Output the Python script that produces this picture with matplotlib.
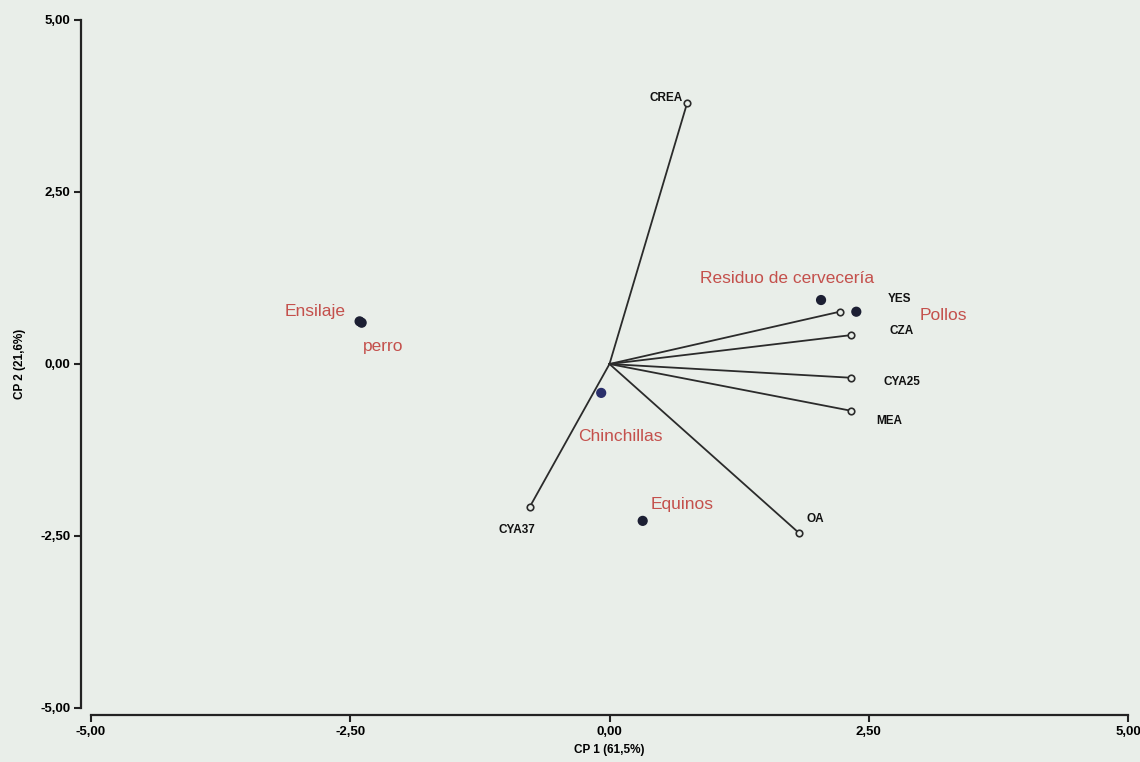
import numpy as np
import matplotlib
matplotlib.use("Agg")
import matplotlib.pyplot as plt

plt.rcParams['font.family'] = ['Liberation Sans', 'DejaVu Sans']
plt.rcParams['font.weight'] = 'bold'
plt.rcParams['xtick.labelsize'] = 9.5
plt.rcParams['ytick.labelsize'] = 9.5

# ---- variables (vectores) ----
var_names = ["CREA", "YES", "CZA", "CYA25", "MEA", "OA", "CYA37"]
var_x = [0.75, 2.22, 2.33, 2.33, 2.33, 1.83, -0.77]
var_y = [3.80, 0.76, 0.42, -0.20, -0.68, -2.46, -2.08]
# desplazamiento de etiquetas (pixeles)
var_off = [(-5, 5), (60, 13), (51, 4), (51, -4), (38, -10), (16, 14), (-13, -23)]

# ---- observaciones ----
obs_names = ["Ensilaje", "perro", "Residuo de cervecería", "Pollos", "Chinchillas", "Equinos"]
obs_x = [-2.41, -2.39, 2.04, 2.38, -0.08, 0.32]
obs_y = [0.62, 0.60, 0.93, 0.76, -0.42, -2.28]
obs_off = [(-44, 10), (22, -24), (-34, 22), (87, -4), (19, -44), (39, 16)]
obs_col = ["#1c1f33", "#1c1f33", "#1c1f33", "#1c1f33", "#2a2f6a", "#1c1f33"]

ticks = [-5, -2.5, 0, 2.5, 5]
tick_labels = ["-5,00", "-2,50", "0,00", "2,50", "5,00"]

bg = "#e9eee9"
red = "#c4504c"

fig = plt.figure(figsize=(11.4, 7.62), dpi=100, facecolor=bg)
ax = fig.add_axes([91 / 1140, 54 / 762, 1037 / 1140, 688 / 762], facecolor=bg)

# vectores desde el origen
for x, y in zip(var_x, var_y):
    ax.plot([0, x], [0, y], color="#2b2b2b", lw=1.3, zorder=2)
ax.scatter(var_x, var_y, s=22, facecolor=bg, edgecolor="#2b2b2b", lw=1.2, zorder=3)
for n, x, y, (dx, dy) in zip(var_names, var_x, var_y, var_off):
    ha = "right" if n == "CREA" else "center"
    ax.annotate(n, (x, y), xytext=(dx, dy), textcoords="offset pixels",
                ha=ha, va="center", fontsize=8.5, fontweight="bold", color="#111111")

ax.scatter(obs_x, obs_y, s=40, c=obs_col, zorder=4)
for n, x, y, (dx, dy) in zip(obs_names, obs_x, obs_y, obs_off):
    ax.annotate(n, (x, y), xytext=(dx, dy), textcoords="offset pixels",
                ha="center", va="center", fontsize=12.5, fontweight="normal", color=red)

ax.set_xlim(-5, 5)
ax.set_ylim(-5, 5)
ax.set_xticks(ticks, tick_labels)
ax.set_yticks(ticks, tick_labels)
ax.tick_params(length=5, width=1.5, color="#222222", pad=3)

for s in ["top", "right"]:
    ax.spines[s].set_visible(False)
ax.spines["left"].set_position(("outward", 7))
ax.spines["bottom"].set_position(("outward", 5))
ax.spines["left"].set_bounds(-5, 5)
ax.spines["bottom"].set_bounds(-5, 5)
for s in ["left", "bottom"]:
    ax.spines[s].set_linewidth(1.6)
    ax.spines[s].set_color("#222222")

ax.set_xlabel("CP 1 (61,5%)", fontsize=8.5, fontweight="bold", labelpad=4)
ax.set_ylabel("CP 2 (21,6%)", fontsize=8.5, fontweight="bold", labelpad=10)

fig.savefig("out.png", dpi=100, facecolor=bg)
